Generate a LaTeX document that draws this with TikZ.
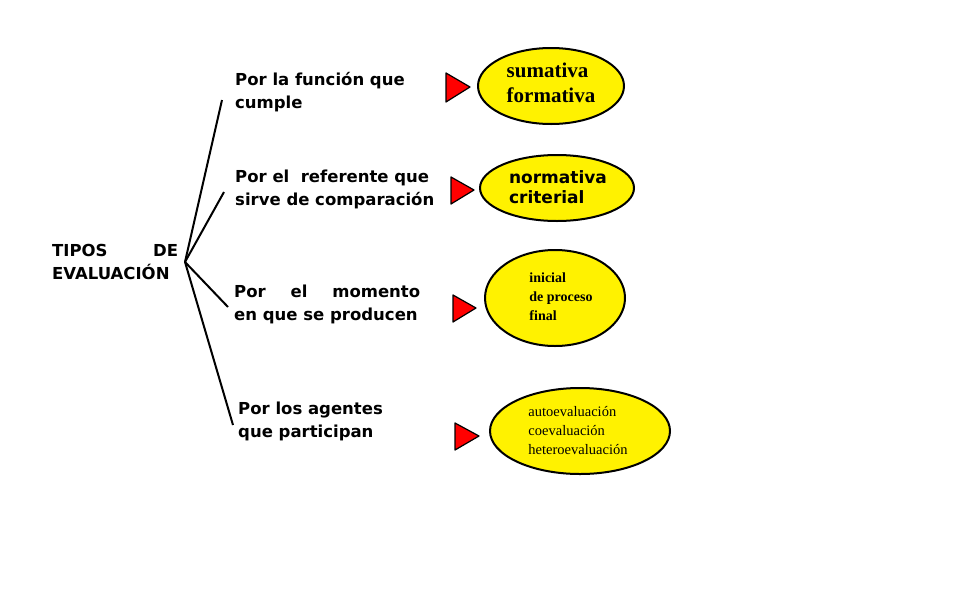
\documentclass[tikz,border=0pt]{standalone}
\usepackage{fontspec}
\setmainfont{DejaVu Sans}
\newfontfamily\serifb{Liberation Serif}
\begin{document}
\begin{tikzpicture}[x=1pt,y=-1pt,
  lbl/.style={font=\bfseries\fontsize{16.5}{23}\selectfont, align=left, anchor=north west, inner sep=0pt},
  ell/.style={draw=black, line width=2pt, fill=yellow},
  tri/.style={draw=black, fill=red, line width=1.2pt, line join=round},
  br/.style={line width=2pt}]
\useasboundingbox (0,0) rectangle (957,608);
\fill[white] (0,0) rectangle (957,608);
\node[lbl] (root) at (52,244) {\makebox[126pt][s]{TIPOS\hfill DE}\\EVALUACIÓN};
\coordinate (hub) at (185,262);
\coordinate (e1) at (222,100);
\coordinate (e2) at (224,192);
\coordinate (e3) at (228,307);
\coordinate (e4) at (233,425);
\foreach \e in {e1,e2,e3,e4} \draw[br] (hub) -- (\e);
\node[lbl] (l1) at (235,72) {Por la función que\\ cumple};
\node[lbl] (l2) at (235,170) {Por el \ referente que\\sirve de comparación};
\node[lbl] (l3) at (234,285) {\makebox[186pt][s]{Por\hfill el\hfill momento}\\en que se producen};
\node[lbl] (l4) at (238,402) {Por los agentes\\que participan};
\draw[tri] (446,73) -- (446,102) -- (470,87) -- cycle;
\draw[tri] (451,177) -- (451,204) -- (474,190) -- cycle;
\draw[tri] (453,295) -- (453,322) -- (476,308) -- cycle;
\draw[tri] (455,423) -- (455,450) -- (479,436) -- cycle;
\draw[ell] (551,86) ellipse [x radius=73, y radius=38];
\node[font=\serifb\bfseries\fontsize{21}{25}\selectfont, align=left] (o1) at (551,83) {sumativa\\formativa};
\draw[ell] (557,188) ellipse [x radius=77, y radius=33];
\node[font=\bfseries\fontsize{17}{20}\selectfont, align=left] (o2) at (558,187) {normativa\\ criterial};
\draw[ell] (555,298) ellipse [x radius=70, y radius=48];
\node[font=\serifb\bfseries\fontsize{14}{19}\selectfont, align=left] (o3) at (561,297) {inicial\\de proceso\\final};
\draw[ell] (580,431) ellipse [x radius=90, y radius=43];
\node[font=\serifb\fontsize{14.5}{19}\selectfont, align=left] (o4) at (578,431) {autoevaluación\\coevaluación\\heteroevaluación};
\end{tikzpicture}
\end{document}
